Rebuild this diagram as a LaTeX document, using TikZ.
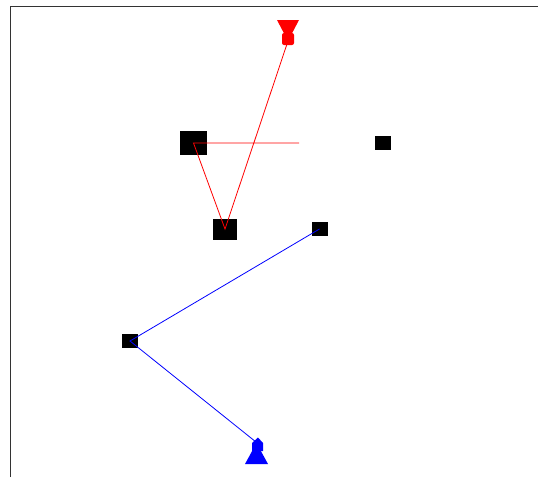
\documentclass[tikz,border=0pt]{standalone}
\begin{document}
\begin{tikzpicture}[x=1pt,y=-1pt,
  sq/.style={fill=black,draw=none,inner sep=0pt,outer sep=0pt},
  redline/.style={draw=red,line width=0.8pt},
  blueline/.style={draw=blue,line width=0.8pt}]
\useasboundingbox (0,0) rectangle (538,477);
\fill[white] (0,0) rectangle (538,477);
\draw[line width=1.3pt,black!80] (10.5,477) -- (10.5,6.5) -- (538,6.5);
% squares
\node[sq,minimum width=27pt,minimum height=24pt] (sqA) at (193.5,143) {};
\node[sq,minimum width=24pt,minimum height=21pt] (sqB) at (225,229) {};
\node[sq,minimum width=16pt,minimum height=14pt] (sqC) at (383,143) {};
\node[sq,minimum width=16pt,minimum height=14pt] (sqD) at (319.5,229) {};
\node[sq,minimum width=16pt,minimum height=14pt] (sqE) at (130,341) {};
% free ends
\coordinate (redtip) at (287,44);
\coordinate (redend) at (299,143);
\coordinate (bluetip) at (256,442);
% red polyline
\draw[redline] (redend) -- (sqA.center) -- (sqB.center) -- (redtip);
% blue polyline
\draw[blueline] (sqD.center) -- (sqE.center) -- (bluetip);
% red arrow head (pointing down)
\fill[red] (277,20) -- (299,20) -- (288,41) -- cycle;
\fill[red,rounded corners=2pt] (282,33) rectangle (294,45);
% blue arrow head (pointing up)
\fill[blue] (245,464) -- (268,464) -- (256.5,443) -- cycle;
\fill[blue] (252,451) -- (252,443) -- (258,437.5) -- (263,443) -- (263,451) -- cycle;
\end{tikzpicture}
\end{document}
